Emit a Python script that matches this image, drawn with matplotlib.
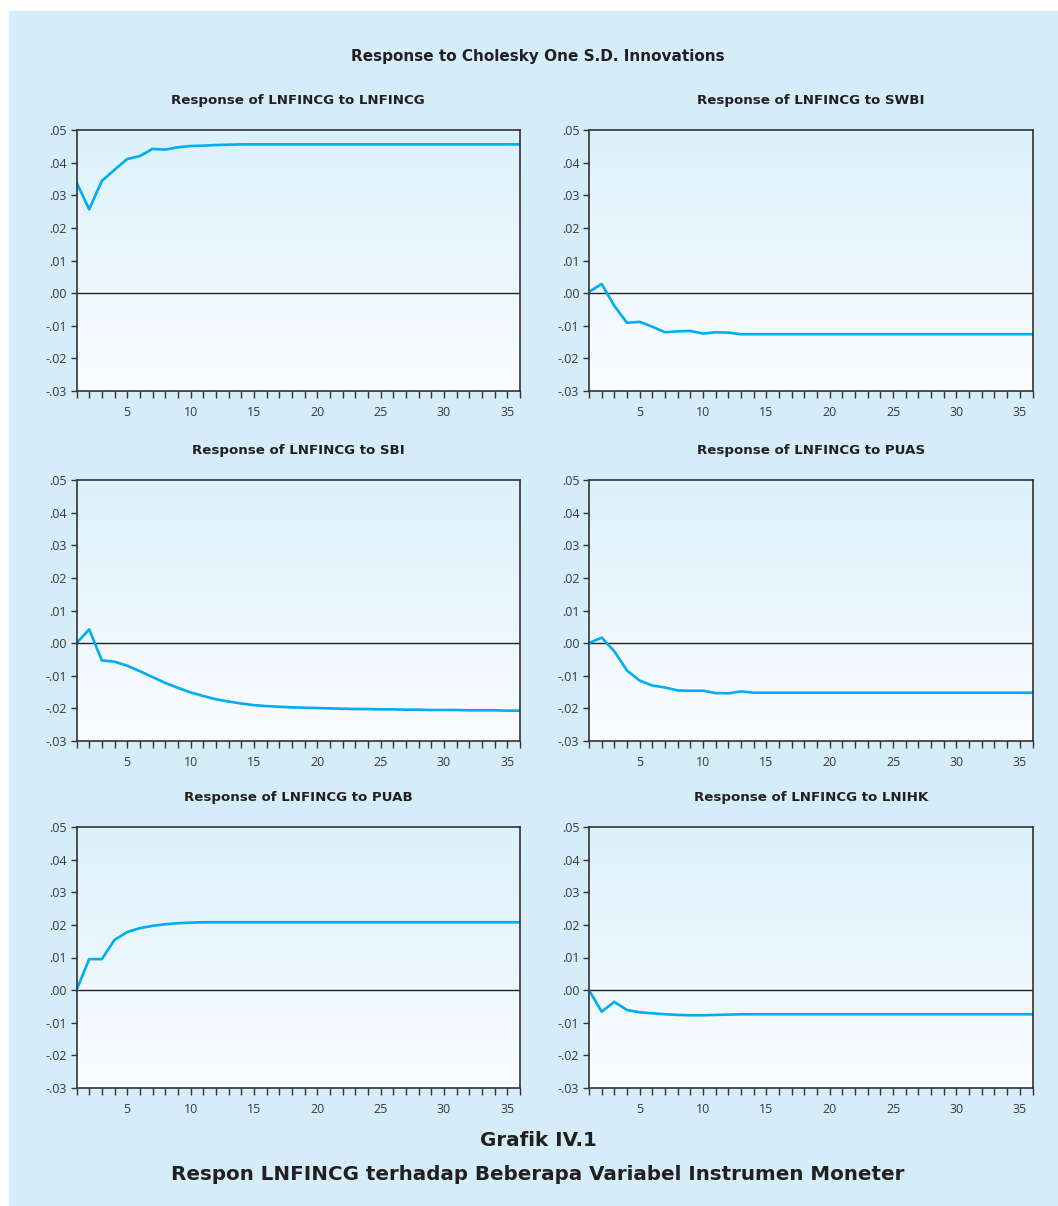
import numpy as np
import matplotlib
matplotlib.use("Agg")
import matplotlib.pyplot as plt
from matplotlib.patches import Rectangle
from matplotlib.ticker import MultipleLocator, FuncFormatter

# impulse responses, periods 1..36
periods = np.arange(1, 37)

resp_lnfincg = [0.0339, 0.0257, 0.0344, 0.0378, 0.0411, 0.0420, 0.0442, 0.0440,
                0.0447, 0.0451, 0.0452, 0.0454, 0.0455] + [0.0456] * 23
resp_swbi = [0.0004, 0.0028, -0.0039, -0.0091, -0.0088, -0.0103, -0.0120, -0.0117,
             -0.0116, -0.0124, -0.0120, -0.0121, -0.0126] + [-0.0126] * 23
resp_sbi = [0.0, 0.0042, -0.0053, -0.0057, -0.0069, -0.0086, -0.0104, -0.0122,
            -0.0137, -0.0151, -0.0162, -0.0172, -0.0179, -0.0185, -0.0190, -0.0193,
            -0.0195, -0.0197, -0.0198, -0.0199, -0.0200, -0.0201, -0.0202, -0.0202,
            -0.0203, -0.0203, -0.0204, -0.0204, -0.0205, -0.0205, -0.0205, -0.0206,
            -0.0206, -0.0206, -0.0207, -0.0207]
resp_puas = [0.0, 0.0017, -0.0025, -0.0084, -0.0115, -0.0130, -0.0136, -0.0145,
             -0.0146, -0.0146, -0.0153, -0.0154, -0.0148, -0.0152] + [-0.0152] * 22
resp_puab = [0.0, 0.0095, 0.0095, 0.0154, 0.0178, 0.0190, 0.0197, 0.0202,
             0.0205, 0.0207] + [0.0208] * 26
resp_lnihk = [0.0, -0.0066, -0.0036, -0.0061, -0.0068, -0.0071, -0.0074, -0.0076,
              -0.0077, -0.0077, -0.0076, -0.0075] + [-0.0074] * 24

titles = ["Response of LNFINCG to LNFINCG", "Response of LNFINCG to SWBI",
          "Response of LNFINCG to SBI", "Response of LNFINCG to PUAS",
          "Response of LNFINCG to PUAB", "Response of LNFINCG to LNIHK"]
series = [resp_lnfincg, resp_swbi, resp_sbi, resp_puas, resp_puab, resp_lnihk]

W, H = 1058, 1206
BG = "#d5ecf9"
LINE = "#00adef"
TEXT = "#231f20"

fig = plt.figure(figsize=(W / 100, H / 100), dpi=100)
fig.patches.append(Rectangle((9 / W, 0), 1 - 9 / W, 1 - 11 / H,
                             transform=fig.transFigure, color=BG, zorder=-5))

col_left = [76.5, 589]
col_w = 443.5
row_top = [130, 480, 827]
row_h = 261

grad = np.linspace(0, 1, 256)[:, None]
top_c = np.array([0.86, 0.945, 0.985])
bot_c = np.array([0.985, 0.993, 1.0])
grad_img = top_c[None, None, :] * (1 - grad[:, :, None]) + bot_c[None, None, :] * grad[:, :, None]


def tick_fmt(v, pos):
    s = f"{v:.2f}"
    return s.replace("0.", ".", 1)


for i, (title, vals) in enumerate(zip(titles, series)):
    r, c = divmod(i, 2)
    ax = fig.add_axes([col_left[c] / W, 1 - (row_top[r] + row_h) / H,
                       col_w / W, row_h / H])
    ax.imshow(grad_img, extent=[0, 1, 0, 1], transform=ax.transAxes,
              aspect="auto", zorder=0)
    ax.axhline(0, color="#222222", lw=1.0, zorder=1)
    ax.plot(periods, vals, color=LINE, lw=1.9, zorder=2)
    ax.set_xlim(1, 36)
    ax.set_ylim(-0.03, 0.05)
    ax.xaxis.set_major_locator(MultipleLocator(5))
    ax.xaxis.set_minor_locator(MultipleLocator(1))
    ax.yaxis.set_major_locator(MultipleLocator(0.01))
    ax.yaxis.set_major_formatter(FuncFormatter(tick_fmt))
    ax.tick_params(axis="both", which="both", direction="out", color="#333333",
                   labelcolor="#3a3a3a", labelsize=9)
    ax.tick_params(axis="x", which="major", length=5, width=1, pad=6)
    ax.tick_params(axis="x", which="minor", length=5, width=1)
    ax.tick_params(axis="y", which="major", length=4, width=1, pad=3)
    for lab in ax.get_xticklabels() + ax.get_yticklabels():
        lab.set_family("Open Sans")
    for sp in ax.spines.values():
        sp.set_color("#333333")
        sp.set_linewidth(1.2)
    ax.set_title(title, fontsize=9.6, fontweight="bold", color=TEXT, pad=19,
                 family="DejaVu Sans")

fig.text(538 / W, 1 - 56 / H, "Response to Cholesky One S.D. Innovations",
         ha="center", va="center", fontsize=11, fontweight="bold",
         color=TEXT, family="DejaVu Sans")
fig.text(538 / W, 1 - 1140 / H, "Grafik IV.1", ha="center", va="center",
         fontsize=14.3, fontweight="bold", color=TEXT, family="DejaVu Sans")
fig.text(538 / W, 1 - 1175 / H, "Respon LNFINCG terhadap Beberapa Variabel Instrumen Moneter",
         ha="center", va="center", fontsize=14.3, fontweight="bold", color=TEXT,
         family="DejaVu Sans")

fig.savefig("out.png", dpi=100, facecolor="white")
